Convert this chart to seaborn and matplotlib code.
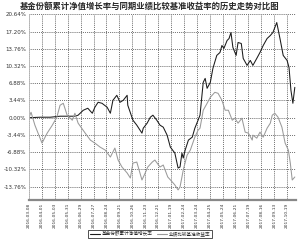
import numpy as np
import matplotlib
matplotlib.use("Agg")
import matplotlib.pyplot as plt
import pandas as pd
import seaborn as sns

# values (trading day index, % return)
fund_day = [0, 17, 33, 48, 64, 71, 76, 84, 91, 98, 102, 107, 113, 121, 126, 130, 136, 141,
            146, 152, 153, 161, 167, 175, 177, 183, 188, 192, 198, 203, 208, 214, 219, 226,
            229, 231, 234, 237, 239, 242, 247, 253, 257, 262, 265, 270, 273, 276, 281, 285,
            291, 296, 299, 302, 307, 310, 313, 316, 321, 324, 329, 332, 338, 343, 347, 353,
            358, 363, 369, 374, 378, 384, 389, 394, 400, 403, 406, 409, 412]
fund_ret = [0.00, 0.10, 0.10, 0.30, 0.30, 0.30, 0.50, 1.49, 1.89, 0.89, 2.09, 3.08, 2.88, 2.09,
            0.89, 3.48, 4.47, 3.08, 3.48, 4.47, 2.49, -0.50, -1.49, -3.08, -2.09, -1.09, 0.10,
            0.50, -0.50, -1.49, -1.89, -3.48, -5.86, -7.06, -8.85, -10.04, -9.84, -7.06, -8.05,
            -6.46, -4.47, -3.88, -2.09, -0.50, 0.50, 7.06, 7.85, 5.86, 7.06, 9.84, 12.43, 13.02,
            14.41, 13.82, 15.41, 15.80, 17.00, 14.02, 12.43, 15.01, 14.81, 11.83, 10.44, 11.43,
            10.44, 11.83, 13.02, 14.41, 15.80, 16.40, 17.00, 18.99, 15.80, 12.43, 11.43, 10.04,
            5.47, 2.88, 6.06]

bench_day = [0, 3, 9, 20, 28, 36, 43, 48, 53, 59, 67, 71, 76, 87, 95, 102, 110, 118, 126, 133,
             138, 144, 152, 157, 161, 167, 175, 180, 184, 191, 195, 203, 208, 215, 222, 226,
             231, 234, 237, 239, 245, 250, 257, 262, 265, 270, 276, 281, 288, 293, 299, 304,
             309, 315, 319, 324, 330, 335, 340, 346, 347, 353, 358, 363, 369, 374, 377, 381,
             386, 392, 397, 402, 405, 408, 412]
bench_ret = [0.10, 1.09, -1.49, -5.07, -3.08, -1.49, 0.10, 2.49, 2.88, 0.50, -0.50, 0.89, -1.09,
             -3.08, -4.47, -5.07, -5.86, -6.46, -7.85, -6.06, -8.45, -9.84, -11.03, -12.03,
             -9.05, -8.85, -12.43, -11.03, -9.84, -8.85, -8.45, -9.84, -9.44, -11.83, -12.82,
             -13.42, -14.41, -13.82, -11.83, -10.44, -7.46, -6.46, -3.88, -2.49, -2.09, 1.49,
             2.88, 4.08, 5.07, 4.87, 3.48, 1.49, 1.49, -0.50, -0.10, -1.09, -0.10, -2.88, -3.08,
             -4.47, -3.48, -4.08, -2.88, -3.88, -2.09, -1.09, 0.50, 0.89, 0.10, -1.89, -5.07,
             -6.46, -9.05, -12.43, -11.83]

y_ticks = [-13.76, -10.32, -6.88, -3.44, 0.00, 3.44, 6.88, 10.32, 13.76, 17.20, 20.64]
x_tick_days = list(range(0, 401, 20))
x_tick_labels = ["2016-03-08", "2016-04-01", "2016-05-03", "2016-05-31", "2016-06-29",
                 "2016-07-27", "2016-08-24", "2016-09-21", "2016-10-26", "2016-11-23",
                 "2016-12-21", "2017-01-19", "2017-02-24", "2017-03-24", "2017-04-25",
                 "2017-05-24", "2017-06-21", "2017-07-19", "2017-08-16", "2017-09-13",
                 "2017-10-19"]

fund_name = "基金份额累计净值增长率"
bench_name = "业绩比较基准收益率"
title = "基金份额累计净值增长率与同期业绩比较基准收益率的历史走势对比图"

df = pd.concat([
    pd.DataFrame({"day": fund_day, "ret": fund_ret, "series": fund_name}),
    pd.DataFrame({"day": bench_day, "ret": bench_ret, "series": bench_name}),
])

sns.set_style("white")
plt.rcParams['font.family'] = ['Noto Sans CJK SC', 'DejaVu Sans']

fig = plt.figure(figsize=(3.0, 2.42), dpi=100)
ax = fig.add_axes([0.097, 0.174, 0.89, 0.767])

sns.lineplot(data=df, x="day", y="ret", hue="series", sort=False,
             palette={fund_name: "#1a1a1a", bench_name: "#9a9a9a"},
             linewidth=0.75, ax=ax, legend=False)

ax.set_xlim(0, 414)
ax.set_ylim(-16.4, 20.64)
ax.set_yticks(y_ticks)
ax.set_yticklabels([f"{v:.2f}%" for v in y_ticks], fontsize=4, color="#333333",
                   family="DejaVu Sans")
ax.set_xticks(x_tick_days)
ax.set_xticklabels(x_tick_labels, rotation=90, fontsize=3.2, color="#333333",
                   family="DejaVu Sans")
ax.tick_params(length=0, pad=2)
ax.set_xlabel("")
ax.set_ylabel("")

ax.grid(True, linestyle=(0, (1, 1.3)), color="#444444", linewidth=0.6)
for s in ["top", "right"]:
    ax.spines[s].set_visible(False)
ax.spines["left"].set_color("#bbbbbb")
ax.spines["left"].set_linewidth(0.6)
ax.spines["bottom"].set_color("#888888")
ax.spines["bottom"].set_linewidth(1.6)

fig.text(0.5, 0.975, title, ha="center", va="center", fontsize=6.0, fontweight="bold")

handles = [plt.Line2D([], [], color="#1a1a1a", lw=0.8),
           plt.Line2D([], [], color="#9a9a9a", lw=0.8)]
leg = fig.legend(handles, [fund_name, bench_name], loc="center", bbox_to_anchor=(0.5, 0.033),
                 ncol=2, fontsize=3.3, frameon=True, fancybox=False, handlelength=2.2,
                 handletextpad=0.4, columnspacing=1.0, borderpad=0.35)
leg.get_frame().set_edgecolor("#000000")
leg.get_frame().set_linewidth(0.6)

fig.savefig("out.png", dpi=100)
